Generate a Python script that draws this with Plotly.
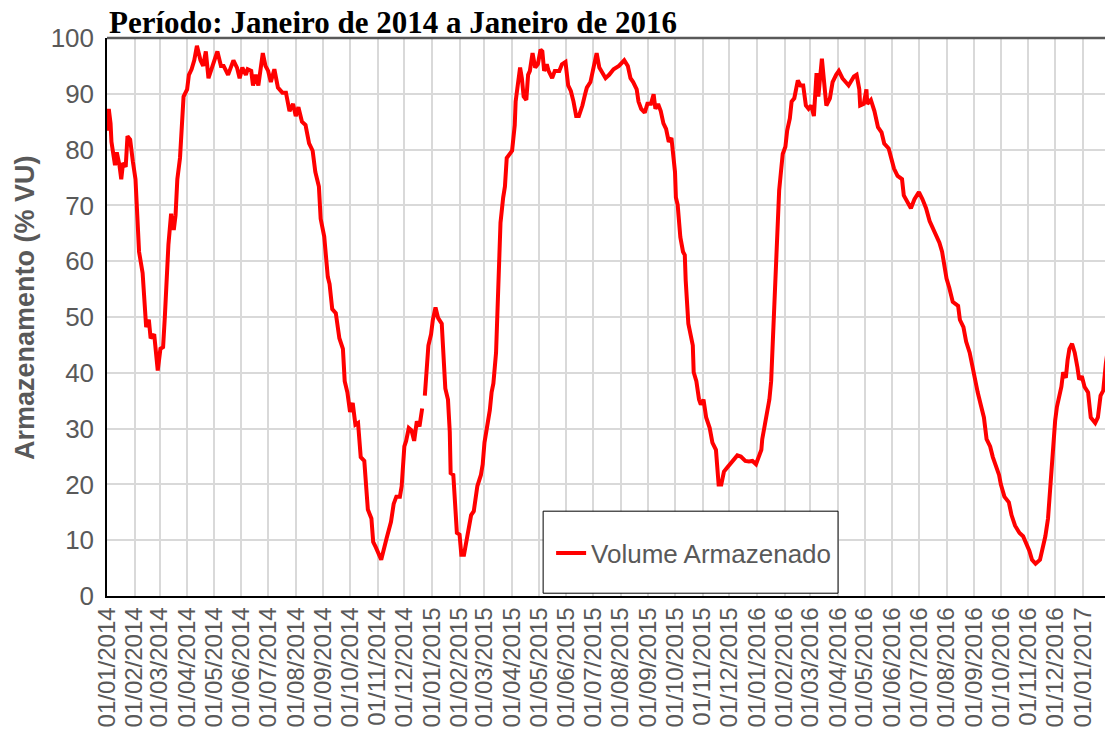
import plotly.graph_objects as go

title_text = "Período: Janeiro de 2014 a Janeiro de 2016"
y_title = "Armazenamento (% VU)"
series_name = "Volume Armazenado"

dates = [
    "2014-01-01", "2014-01-03", "2014-01-05", "2014-01-06", "2014-01-10", "2014-01-12", "2014-01-15",
    "2014-01-17", "2014-01-19", "2014-01-22", "2014-01-24", "2014-01-27", "2014-01-30", "2014-02-02",
    "2014-02-04", "2014-02-06", "2014-02-10", "2014-02-12", "2014-02-14", "2014-02-17", "2014-02-19",
    "2014-02-23", "2014-02-25", "2014-02-27", "2014-03-02", "2014-03-05", "2014-03-07", "2014-03-09",
    "2014-03-11", "2014-03-14", "2014-03-17", "2014-03-19", "2014-03-21", "2014-03-24", "2014-03-26",
    "2014-03-28", "2014-04-01", "2014-04-03", "2014-04-06", "2014-04-09", "2014-04-12", "2014-04-16",
    "2014-04-19", "2014-04-22", "2014-04-25", "2014-04-29", "2014-05-05", "2014-05-09", "2014-05-12",
    "2014-05-17", "2014-05-23", "2014-05-27", "2014-05-30", "2014-06-02", "2014-06-06", "2014-06-08",
    "2014-06-12", "2014-06-14", "2014-06-17", "2014-06-20", "2014-06-25", "2014-06-28", "2014-07-01",
    "2014-07-04", "2014-07-08", "2014-07-12", "2014-07-17", "2014-07-21", "2014-07-25", "2014-07-29",
    "2014-08-01", "2014-08-04", "2014-08-08", "2014-08-12", "2014-08-16", "2014-08-20", "2014-08-23",
    "2014-08-27", "2014-08-29", "2014-09-02", "2014-09-04", "2014-09-06", "2014-09-08", "2014-09-11",
    "2014-09-15", "2014-09-19", "2014-09-23", "2014-09-25", "2014-09-28", "2014-10-01", "2014-10-04",
    "2014-10-07", "2014-10-10", "2014-10-13", "2014-10-17", "2014-10-21", "2014-10-25", "2014-10-27",
    "2014-10-30", "2014-11-05", "2014-11-11", "2014-11-16", "2014-11-19", "2014-11-22", "2014-11-26",
    "2014-11-28", "2014-12-01", "2014-12-03", "2014-12-06", "2014-12-09", "2014-12-12", "2014-12-15",
    "2014-12-18", "2014-12-21", "2014-12-22", "2014-12-24", "2014-12-26", "2014-12-28", "2014-12-31",
    "2015-01-02", "2015-01-05", "2015-01-08", "2015-01-12", "2015-01-14", "2015-01-16", "2015-01-19",
    "2015-01-21", "2015-01-22", "2015-01-25", "2015-01-27", "2015-01-29", "2015-02-01", "2015-02-03",
    "2015-02-06", "2015-02-10", "2015-02-14", "2015-02-17", "2015-02-21", "2015-02-25", "2015-02-27",
    "2015-03-01", "2015-03-04", "2015-03-07", "2015-03-09", "2015-03-11", "2015-03-14", "2015-03-15",
    "2015-03-17", "2015-03-19", "2015-03-22", "2015-03-24", "2015-03-26", "2015-03-29", "2015-04-01",
    "2015-04-04", "2015-04-05", "2015-04-07", "2015-04-10", "2015-04-12", "2015-04-14", "2015-04-17",
    "2015-04-19", "2015-04-21", "2015-04-24", "2015-04-27", "2015-04-30", "2015-05-03", "2015-05-05",
    "2015-05-07", "2015-05-10", "2015-05-12", "2015-05-16", "2015-05-19", "2015-05-24", "2015-05-27",
    "2015-05-31", "2015-06-03", "2015-06-06", "2015-06-09", "2015-06-12", "2015-06-15", "2015-06-19",
    "2015-06-22", "2015-06-24", "2015-06-28", "2015-07-01", "2015-07-05", "2015-07-08", "2015-07-13",
    "2015-07-15", "2015-07-19", "2015-07-24", "2015-07-30", "2015-08-05", "2015-08-09", "2015-08-12",
    "2015-08-15", "2015-08-19", "2015-08-21", "2015-08-24", "2015-08-28", "2015-08-31", "2015-09-04",
    "2015-09-07", "2015-09-09", "2015-09-12", "2015-09-15", "2015-09-18", "2015-09-21", "2015-09-24",
    "2015-09-27", "2015-09-29", "2015-10-01", "2015-10-02", "2015-10-04", "2015-10-07", "2015-10-10",
    "2015-10-12", "2015-10-13", "2015-10-16", "2015-10-18", "2015-10-21", "2015-10-22", "2015-10-25",
    "2015-10-28", "2015-10-30", "2015-11-02", "2015-11-05", "2015-11-09", "2015-11-12", "2015-11-16",
    "2015-11-17", "2015-11-19", "2015-11-22", "2015-11-25", "2015-11-28", "2015-12-03", "2015-12-06",
    "2015-12-10", "2015-12-14", "2015-12-19", "2015-12-23", "2015-12-27", "2015-12-31", "2016-01-03",
    "2016-01-06", "2016-01-07", "2016-01-10", "2016-01-12", "2016-01-15", "2016-01-17", "2016-01-18",
    "2016-01-20", "2016-01-22", "2016-01-24", "2016-01-26", "2016-01-28", "2016-01-30", "2016-02-02",
    "2016-02-04", "2016-02-07", "2016-02-09", "2016-02-12", "2016-02-16", "2016-02-19", "2016-02-22",
    "2016-02-25", "2016-02-28", "2016-03-02", "2016-03-05", "2016-03-08", "2016-03-10", "2016-03-14",
    "2016-03-17", "2016-03-19", "2016-03-23", "2016-03-26", "2016-03-30", "2016-04-02", "2016-04-06",
    "2016-04-10", "2016-04-13", "2016-04-19", "2016-04-22", "2016-04-25", "2016-04-26", "2016-04-30",
    "2016-05-03", "2016-05-04", "2016-05-08", "2016-05-12", "2016-05-16", "2016-05-20", "2016-05-23",
    "2016-05-28", "2016-05-31", "2016-06-03", "2016-06-07", "2016-06-12", "2016-06-14", "2016-06-18",
    "2016-06-22", "2016-06-26", "2016-07-01", "2016-07-05", "2016-07-09", "2016-07-13", "2016-07-17",
    "2016-07-20", "2016-07-24", "2016-07-27", "2016-07-30", "2016-08-01", "2016-08-04", "2016-08-08",
    "2016-08-14", "2016-08-16", "2016-08-20", "2016-08-23", "2016-08-27", "2016-08-30", "2016-09-02",
    "2016-09-05", "2016-09-09", "2016-09-12", "2016-09-15", "2016-09-19", "2016-09-22", "2016-09-26",
    "2016-09-29", "2016-10-01", "2016-10-05", "2016-10-10", "2016-10-13", "2016-10-17", "2016-10-22",
    "2016-10-26", "2016-10-30", "2016-11-02", "2016-11-05", "2016-11-09", "2016-11-14", "2016-11-17",
    "2016-11-20", "2016-11-23", "2016-11-25", "2016-11-27", "2016-11-29", "2016-12-01", "2016-12-03",
    "2016-12-05", "2016-12-08", "2016-12-10", "2016-12-13", "2016-12-15", "2016-12-17", "2016-12-20",
    "2016-12-23", "2016-12-26", "2016-12-28", "2016-12-31", "2017-01-03", "2017-01-07", "2017-01-09",
    "2017-01-10", "2017-01-15", "2017-01-18", "2017-01-21", "2017-01-24", "2017-01-27", "2017-01-29",
]

volume = [
    83.4, 87.3, 84.7, 81.4, 77.2, 79.5, 77.2,
    74.7, 77.6, 76.9, 82.4, 81.8, 77.9, 74.7,
    68.2, 61.7, 57.9, 51.4, 48.2, 49.5, 46.2,
    46.9, 44.3, 40.4, 44.3, 44.6, 50.1, 58.5,
    63.0, 68.5, 65.6, 68.2, 74.7, 78.5, 84.4,
    89.5, 90.8, 93.4, 94.4, 96.0, 98.6, 96.0,
    95.0, 97.6, 92.8, 94.7, 97.6, 95.0, 95.0,
    93.4, 96.0, 94.7, 92.8, 94.7, 93.4, 94.4,
    94.1, 91.5, 93.4, 91.5, 97.3, 95.0, 94.1,
    92.1, 94.4, 91.1, 90.2, 90.2, 86.9, 88.2,
    86.0, 87.6, 85.0, 84.4, 81.1, 79.8, 76.0,
    73.4, 67.6, 64.4, 61.1, 57.2, 55.9, 51.4,
    50.7, 46.2, 44.3, 38.5, 36.5, 33.0, 34.6,
    30.7, 31.0, 24.9, 24.2, 15.5, 13.9, 9.7,
    8.7, 6.5, 10.3, 13.3, 16.5, 17.8, 17.8,
    19.7, 26.8, 27.8, 30.1, 29.7, 27.8, 31.3,
    30.4, 33.6, None, 35.9, 41.4, 44.9, 46.9,
    49.5, 51.7, 49.8, 48.8, 43.6, 37.2, 35.2,
    29.4, 22.0, 21.7, 16.5, 11.3, 11.0, 7.4,
    7.4, 11.3, 14.5, 15.2, 19.7, 21.7, 23.6,
    27.5, 30.1, 33.3, 36.5, 38.1, 43.6, 48.2,
    55.3, 66.9, 71.4, 73.4, 78.5, 79.2, 79.8,
    84.4, 88.6, 91.1, 94.7, 92.8, 89.5, 88.9,
    93.4, 94.1, 97.3, 94.7, 95.3, 97.9, 97.6,
    94.1, 95.3, 94.1, 92.8, 94.1, 94.1, 95.3,
    95.7, 91.5, 90.5, 88.6, 86.0, 86.0, 87.9,
    89.9, 91.1, 92.1, 94.7, 97.3, 94.7, 93.4,
    92.8, 93.4, 94.4, 95.0, 96.0, 95.0, 92.8,
    92.1, 90.8, 88.6, 87.3, 86.6, 88.2, 88.2,
    89.9, 87.3, 88.2, 86.9, 84.7, 83.7, 81.4,
    82.1, 79.2, 76.0, 71.4, 70.1, 64.3, 61.7,
    61.1, 56.6, 48.8, 47.5, 44.9, 40.1, 38.5,
    35.2, 34.3, 35.2, 32.0, 30.1, 27.5, 26.2,
    22.9, 20.0, 20.0, 22.3, 22.9, 23.9, 24.6,
    25.2, 25.0, 24.2, 24.1, 24.2, 23.6, 25.2,
    26.2, 28.1, 30.7, 32.6, 35.2, 38.5, 42.3,
    48.8, 58.5, 66.9, 72.7, 76.0, 79.2, 80.5,
    83.4, 85.6, 88.6, 89.2, 92.4, 91.5, 91.5,
    87.9, 87.3, 87.9, 86.0, 93.7, 89.5, 96.3,
    92.1, 87.9, 89.2, 92.1, 93.4, 94.1, 92.8,
    92.1, 91.5, 93.1, 93.4, 90.8, 87.9, 88.2,
    90.8, 88.2, 88.9, 86.9, 84.0, 83.1, 81.1,
    80.2, 78.2, 76.6, 75.3, 74.7, 71.8, 70.8,
    69.5, 71.1, 72.4, 71.1, 69.5, 67.2, 65.9,
    64.6, 63.3, 61.7, 59.1, 56.9, 55.3, 52.7,
    52.0, 49.5, 48.2, 45.6, 43.6, 41.0, 38.5,
    36.5, 33.9, 32.0, 28.1, 26.8, 24.9, 23.3,
    21.7, 20.0, 17.8, 16.8, 14.5, 12.6, 11.3,
    10.7, 9.4, 8.1, 6.5, 5.8, 6.5, 8.7,
    10.7, 13.9, 18.4, 22.9, 27.5, 31.4, 33.9,
    35.2, 37.5, 40.1, 39.1, 42.3, 44.3, 45.2,
    43.6, 41.0, 38.8, 39.4, 37.5, 36.5, 33.3,
    32.0, 31.0, 32.0, 35.9, 36.8, 41.7, 44.0,
]

x_range = ["2014-01-01", "2017-01-26"]
y_ticks = [0, 10, 20, 30, 40, 50, 60, 70, 80, 90, 100]

GRAY = "#595959"
GRID = "#D9D9D9"
SANS = "Liberation Sans, Arial, sans-serif"

fig = go.Figure()
fig.add_trace(go.Scatter(
    x=dates, y=volume, mode="lines", name=series_name,
    line=dict(color="#FF0000", width=4), connectgaps=False,
))

fig.update_layout(
    width=1105, height=743,
    margin=dict(l=107, r=0, t=38, b=147, pad=0, autoexpand=False),
    plot_bgcolor="white", paper_bgcolor="white",
    font=dict(family=SANS, color=GRAY),
    showlegend=True,
    legend=dict(
        x=0.445, y=0.077, xanchor="left", yanchor="middle",
        bgcolor="rgba(0,0,0,0)", borderwidth=0,
        font=dict(size=26, color=GRAY, family=SANS),
    ),
    xaxis=dict(
        type="date", range=x_range, dtick="M1", tick0="2014-01-01",
        tickformat="%d/%m/%Y", tickangle=-90,
        tickfont=dict(size=24, color=GRAY),
        showgrid=True, gridcolor=GRID, gridwidth=1.5,
        showline=True, linecolor="black", linewidth=1.5,
        ticks="", zeroline=False, automargin=False,
    ),
    yaxis=dict(
        range=[0, 100], tickvals=y_ticks,
        tickfont=dict(size=26, color=GRAY),
        showgrid=True, gridcolor=GRID, gridwidth=1.5,
        showline=True, linecolor="black", linewidth=1.5,
        ticks="", zeroline=False, ticklabelstandoff=6, automargin=False,
    ),
    shapes=[
        dict(type="line", xref="paper", yref="paper", x0=0, x1=1, y0=1, y1=1,
             line=dict(color=GRAY, width=2.5)),
        dict(type="rect", xref="paper", yref="paper", x0=0.437, x1=0.7325, y0=0.005, y1=0.152,
             fillcolor="white", line=dict(color="black", width=1), layer="above"),
    ],
    annotations=[
        dict(text="<b>" + title_text + "</b>", xref="paper", yref="paper", x=0, y=1,
             xanchor="left", yanchor="bottom", yshift=-4, showarrow=False,
             font=dict(family="Liberation Serif, Times New Roman, serif", size=31, color="black")),
        dict(text="<b>" + y_title + "</b>", xref="paper", yref="paper", x=0, y=0.516,
             xanchor="center", yanchor="middle", xshift=-82, textangle=-90, showarrow=False,
             font=dict(size=27, color=GRAY, family=SANS)),
    ],
)

fig.write_html(
    "out.html",
    config={"displayModeBar": False},
    post_script="document.body.style.margin='0';document.body.style.overflow='hidden';",
)
